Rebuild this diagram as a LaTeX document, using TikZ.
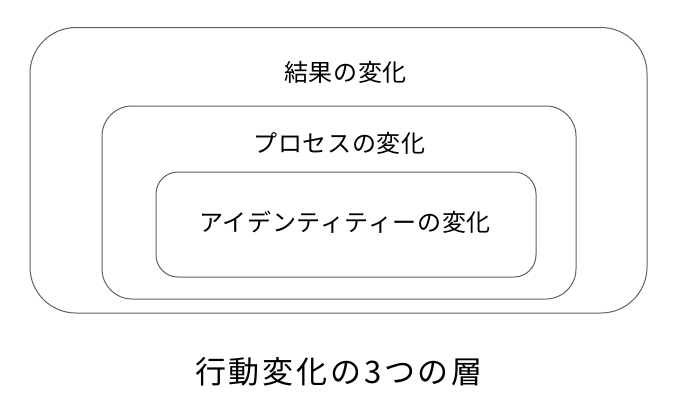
\documentclass[tikz,border=0pt]{standalone}
\usepackage{fontspec}
\setmainfont{Noto Sans CJK JP}[LetterSpace=3]
\newfontfamily\ttlfont{Noto Sans CJK JP}[LetterSpace=9]
\begin{document}
\begin{tikzpicture}[x=1pt,y=-1pt,
  layer/.style={draw=black!62, line width=1pt, minimum width=#1, inner sep=0pt},
  lbl/.style={inner sep=0pt, font=\fontsize{24}{28}\selectfont},
  ttl/.style={inner sep=0pt, font=\ttlfont\fontsize{31}{35}\selectfont}]
\useasboundingbox[fill=white] (0,0) rectangle (677,405);
\node[layer=617pt, minimum height=285.5pt, rounded corners=46pt] (outer) at (338.5,170.25) {};
\node[layer=474pt, minimum height=193pt, rounded corners=30pt] (middle) at (339,202.5) {};
\node[layer=380pt, minimum height=105pt, rounded corners=22pt] (inner) at (346,224.5) {};
\node[lbl] (l1) at (345.5,72) {結果の変化};
\node[lbl] (l2) at (339.5,143) {プロセスの変化};
\node[lbl] (l3) at (345,222) {アイデンティティーの変化};
\node[ttl] (title) at (338.9,372) {行動変化の3つの層};
\end{tikzpicture}
\end{document}
